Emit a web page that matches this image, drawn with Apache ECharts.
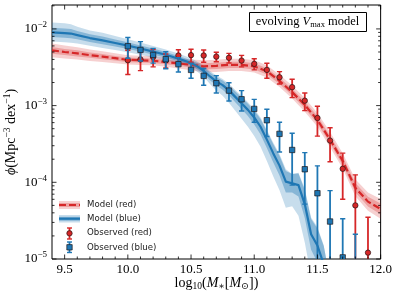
<!DOCTYPE html>
<html><head><meta charset="utf-8">
<script src="https://cdn.jsdelivr.net/npm/echarts@6/dist/echarts.min.js"></script>
<style>html,body{margin:0;padding:0;background:#fff}#c{width:395px;height:294px}</style>
</head><body><div id="c"></div>
<script>
// ---------------- data ----------------
const obsX = [10.0,10.1,10.2,10.3,10.4,10.5,10.6,10.7,10.8,10.9,11.0,11.1,11.2,11.3,11.4,11.5,11.6,11.7,11.8,11.9];
const redObs = [3.9e-3,4.0e-3,4.3e-3,3.9e-3,4.5e-3,4.55e-3,4.5e-3,4.35e-3,4.2e-3,3.86e-3,3.5e-3,2.92e-3,2.34e-3,1.74e-3,1.16e-3,6.9e-4,3.5e-4,1.5e-4,5.0e-5,1.21e-5];
const redErr = [1.36e-3,1.14e-3,1.1e-3,0.8e-3,0.84e-3,0.88e-3,0.82e-3,0.62e-3,0.6e-3,0.66e-3,0.58e-3,0.65e-3,0.43e-3,0.47e-3,0.3e-3,0.29e-3,1.65e-4,0.9e-4,7.5e-5,2.3e-5];
const blueObs = [5.94e-3,5.32e-3,4.58e-3,4.03e-3,3.47e-3,2.92e-3,2.44e-3,1.96e-3,1.57e-3,1.21e-3,9.06e-4,6.45e-4,4.28e-4,2.64e-4,1.48e-4,7.2e-5,3.08e-5,1.05e-5,4e-6,null];
const blueErr = [1.8e-3,1.5e-3,1.0e-3,1.0e-3,0.73e-3,0.65e-3,0.6e-3,0.5e-3,0.42e-3,0.36e-3,0.3e-3,0.25e-3,0.18e-3,1.72e-4,0.96e-4,0.92e-4,4.7e-5,2.3e-5,1.7e-5,null];

const redModelX = [9.4,9.5,9.6,9.7,9.8,9.9,10.0,10.1,10.2,10.3,10.4,10.5,10.6,10.7,10.8,10.9,11.0,11.1,11.2,11.3,11.4,11.5,11.6,11.7,11.8,11.9,12.0];
const redModel = [5.25e-3,5.0e-3,4.8e-3,4.55e-3,4.35e-3,4.15e-3,3.95e-3,3.9e-3,3.85e-3,3.7e-3,3.55e-3,3.4e-3,3.25e-3,3.3e-3,3.4e-3,3.4e-3,3.25e-3,2.8e-3,2.1e-3,1.5e-3,1.02e-3,6.5e-4,3.6e-4,1.9e-4,8.5e-5,5.6e-5,4.5e-5];
const redInner = [0.045,0.04,0.04,0.035,0.035,0.03,0.03,0.03,0.03,0.03,0.03,0.035,0.04,0.04,0.04,0.04,0.04,0.04,0.04,0.045,0.045,0.05,0.05,0.055,0.06,0.065,0.07];
const redOuter = [0.09,0.085,0.08,0.075,0.07,0.065,0.06,0.06,0.06,0.06,0.065,0.07,0.08,0.08,0.08,0.08,0.08,0.08,0.08,0.085,0.09,0.09,0.1,0.1,0.11,0.12,0.13];

const blueModelX = [9.4,9.5,9.55,9.6,9.7,9.8,9.9,10.0,10.1,10.2,10.3,10.4,10.5,10.55,10.6,10.65,10.7,10.75,10.8,10.85,10.9,10.95,11.0,11.05,11.1,11.15,11.2,11.25,11.3,11.35,11.4,11.45,11.5,11.55,11.6];
const blueModel = [9.0e-3,8.8e-3,8.7e-3,8.3e-3,7.6e-3,7.1e-3,6.55e-3,6.05e-3,5.55e-3,5.05e-3,4.6e-3,4.1e-3,3.6e-3,3.25e-3,2.85e-3,2.4e-3,2.07e-3,1.85e-3,1.58e-3,1.3e-3,1.07e-3,8.8e-4,7.0e-4,5.3e-4,3.6e-4,2.4e-4,1.65e-4,1.02e-4,9.7e-5,9.2e-5,5.2e-5,2.1e-5,1.5e-5,8.5e-6,3e-6];
const blueInner = [0.06,0.06,0.06,0.055,0.05,0.05,0.045,0.045,0.04,0.04,0.035,0.035,0.035,0.04,0.045,0.05,0.055,0.06,0.065,0.07,0.075,0.08,0.09,0.1,0.11,0.12,0.13,0.14,0.12,0.15,0.18,0.2,0.22,0.24,0.25];
const blueOuterLo = [0.12,0.12,0.12,0.11,0.1,0.1,0.09,0.085,0.08,0.075,0.07,0.065,0.06,0.07,0.08,0.1,0.12,0.14,0.16,0.18,0.2,0.22,0.24,0.26,0.28,0.3,0.32,0.34,0.3,0.4,0.5,0.55,0.6,0.6,0.6];
const blueOuterHi = [0.13,0.13,0.12,0.11,0.1,0.1,0.09,0.085,0.08,0.075,0.07,0.065,0.06,0.06,0.065,0.07,0.075,0.08,0.085,0.09,0.1,0.1,0.11,0.12,0.13,0.14,0.15,0.16,0.12,0.16,0.2,0.22,0.24,0.25,0.25];

const xTickLabels = [9.5,10.0,10.5,11.0,11.5,12.0];
const yTickLabels = [1e-5,1e-4,1e-3,1e-2];
const legendLabels = ['Model (red)','Model (blue)','Observed (red)','Observed (blue)'];

// ---------------- setup ----------------
const X_MIN = 9.4, X_MAX = 12.0, Y_MIN = 1e-5, Y_MAX = 0.0205;
const RED = '#d62728', BLUE = '#1f77b4';
const SERIF = '"Liberation Serif", "DejaVu Serif", serif';
const SANS = '"DejaVu Sans", sans-serif';

const chart = echarts.init(document.getElementById('c'), null, {renderer: 'canvas'});

function clipRect(cs) { return {type: 'rect', shape: {x: cs.x, y: cs.y, width: cs.width, height: cs.height}}; }

function bandSeries(xs, vals, lo, hi, color, z) {
  return {
    type: 'custom', coordinateSystem: 'cartesian2d', silent: true, z: z,
    data: [[10.5, 1e-3]],
    renderItem: function (params, api) {
      const pts = [];
      for (let i = 0; i < xs.length; i++) pts.push(api.coord([xs[i], vals[i] * Math.pow(10, hi[i])]));
      for (let i = xs.length - 1; i >= 0; i--) pts.push(api.coord([xs[i], vals[i] * Math.pow(10, -lo[i])]));
      return {type: 'polygon', shape: {points: pts}, style: {fill: color}, clipPath: clipRect(params.coordSys)};
    }
  };
}

function errSeries(xs, vals, errs, color, shape, z) {
  const data = [];
  xs.forEach((x, i) => { if (vals[i] != null) data.push([x, vals[i], errs[i]]); });
  return {
    type: 'custom', coordinateSystem: 'cartesian2d', silent: true, z: z,
    data: data,
    renderItem: function (params, api) {
      const x = api.value(0), v = api.value(1), e = api.value(2);
      const cs = params.coordSys;
      const top = cs.y, bottom = cs.y + cs.height;
      const pHi = api.coord([x, v + e]);
      const cx = pHi[0];
      let yHi = pHi[1];
      const capHi = yHi >= top;
      yHi = Math.max(yHi, top);
      let yLo, capLo;
      if (v - e > 0) {
        yLo = api.coord([x, v - e])[1];
        capLo = yLo <= bottom;
        yLo = Math.min(yLo, bottom);
      } else { yLo = bottom; capLo = false; }
      const children = [];
      children.push({type: 'line', shape: {x1: cx, y1: yHi, x2: cx, y2: yLo}, style: {stroke: color, lineWidth: 1.8}});
      if (capHi) children.push({type: 'line', shape: {x1: cx - 2.6, y1: yHi, x2: cx + 2.6, y2: yHi}, style: {stroke: color, lineWidth: 1.4}});
      if (capLo) children.push({type: 'line', shape: {x1: cx - 2.6, y1: yLo, x2: cx + 2.6, y2: yLo}, style: {stroke: color, lineWidth: 1.4}});
      if (v >= Y_MIN) {
        const p = api.coord([x, v]);
        const ms = {fill: color, stroke: 'rgba(30,20,20,0.85)', lineWidth: 0.8};
        if (shape === 'circle') children.push({type: 'circle', shape: {cx: p[0], cy: p[1], r: 2.7}, style: ms});
        else children.push({type: 'rect', shape: {x: p[0] - 2.7, y: p[1] - 2.7, width: 5.4, height: 5.4}, style: ms});
      }
      return {type: 'group', children: children, clipPath: clipRect(cs)};
    }
  };
}

function tickSeries() {
  return {
    type: 'custom', coordinateSystem: 'cartesian2d', silent: true, z: 20,
    data: [[10.5, 1e-3]],
    renderItem: function (params, api) {
      const cs = params.coordSys;
      const L = cs.x, R = cs.x + cs.width, T = cs.y, B = cs.y + cs.height;
      const ch = [];
      const st = {stroke: '#000', lineWidth: 0.8};
      function xt(v, len) {
        const px = api.coord([v, Y_MIN])[0];
        ch.push({type: 'line', shape: {x1: px, y1: B, x2: px, y2: B - len}, style: st});
        ch.push({type: 'line', shape: {x1: px, y1: T, x2: px, y2: T + len}, style: st});
      }
      function yt(v, len) {
        const py = api.coord([X_MIN, v])[1];
        ch.push({type: 'line', shape: {x1: L, y1: py, x2: L + len, y2: py}, style: st});
        ch.push({type: 'line', shape: {x1: R, y1: py, x2: R - len, y2: py}, style: st});
      }
      xTickLabels.forEach(v => xt(v, 4.5));
      for (let k = 95; k <= 119; k++) { const v = k / 10; if (k % 5 !== 0) xt(v, 2.5); }
      yTickLabels.forEach(v => yt(v, 4.5));
      yTickLabels.forEach(d => { for (let m = 2; m <= 9; m++) { const v = d * m; if (v < Y_MAX) yt(v, 2.5); } });
      return {type: 'group', children: ch};
    }
  };
}

function lineData(xs, vs) { return xs.map((x, i) => [x, vs[i]]); }

const option = {
  animation: false,
  backgroundColor: '#fff',
  grid: {left: 52, right: 14, top: 5, bottom: 35, show: true, borderColor: '#000', borderWidth: 1, backgroundColor: 'transparent'},
  xAxis: {
    type: 'value', min: X_MIN, max: X_MAX, splitNumber: 5, minInterval: 0.5, maxInterval: 0.5,
    axisLine: {show: false}, axisTick: {show: false}, splitLine: {show: false},
    axisLabel: {
      margin: 4, color: '#000', fontFamily: SERIF, fontSize: 13,
      showMinLabel: true, showMaxLabel: true,
      formatter: function (v) {
        for (const t of xTickLabels) if (Math.abs(v - t) < 1e-6) return t.toFixed(1);
        return '';
      }
    }
  },
  yAxis: {
    type: 'log', logBase: 10, min: Y_MIN, max: Y_MAX,
    axisLine: {show: false}, axisTick: {show: false}, splitLine: {show: false}, minorTick: {show: false},
    axisLabel: {
      margin: 5, color: '#000',
      formatter: function (v) {
        for (const t of yTickLabels) if (Math.abs(Math.log10(v) - Math.log10(t)) < 1e-6) return '{b|10}{s|\u2212' + Math.round(-Math.log10(t)) + '}';
        return '';
      },
      rich: {
        b: {fontFamily: SERIF, fontSize: 13, color: '#000'},
        s: {fontFamily: SERIF, fontSize: 9, color: '#000', padding: [0, 0, 8, 0]}
      }
    }
  },
  series: [
    bandSeries(redModelX, redModel, redOuter, redOuter, 'rgba(214,39,40,0.22)', 1),
    bandSeries(redModelX, redModel, redInner, redInner, 'rgba(214,39,40,0.28)', 2),
    bandSeries(blueModelX, blueModel, blueOuterLo, blueOuterHi, 'rgba(31,119,180,0.25)', 1),
    bandSeries(blueModelX, blueModel, blueInner, blueInner, 'rgba(31,119,180,0.38)', 2),
    {type: 'line', data: lineData(redModelX, redModel), symbol: 'none', clip: true, z: 3, silent: true,
     lineStyle: {color: RED, width: 2.2, type: [7, 3]}},
    {type: 'line', data: lineData(blueModelX, blueModel), symbol: 'none', clip: true, z: 3, silent: true,
     lineStyle: {color: BLUE, width: 2.2, join: 'round'}},
    errSeries(obsX, redObs, redErr, RED, 'circle', 4),
    errSeries(obsX, blueObs, blueErr, BLUE, 'square', 5),
    tickSeries()
  ],
  graphic: [
    // title box
    {type: 'rect', left: 249, top: 12, shape: {width: 117, height: 19}, style: {fill: '#fff', stroke: '#000', lineWidth: 1}, z: 50},
    {type: 'text', x: 307.5, y: 21.5, z: 51, style: {
      text: '{n|evolving }{i|V}{sub|max}{n| model}', align: 'center', verticalAlign: 'middle',
      rich: {
        n: {fontFamily: SERIF, fontSize: 12.5, fill: '#000'},
        i: {fontFamily: SERIF, fontSize: 12.5, fontStyle: 'italic', fill: '#000'},
        sub: {fontFamily: SERIF, fontSize: 8.5, fill: '#000', padding: [6, 0, 0, 0]}
      }}},
    // x-axis name
    {type: 'text', x: 216.5, y: 283, z: 50, style: {
      text: '{n|log}{sub|10}{n|(}{i|M}{sub|\u2217}{n|[}{i|M}{sub|\u2299}{n|])}', align: 'center', verticalAlign: 'middle',
      rich: {
        n: {fontFamily: SERIF, fontSize: 14, fill: '#000'},
        i: {fontFamily: SERIF, fontSize: 14, fontStyle: 'italic', fill: '#000'},
        sub: {fontFamily: SERIF, fontSize: 9.5, fill: '#000', padding: [6, 0, 0, 0]}
      }}},
    // y-axis name
    {type: 'text', x: 11, y: 132, rotation: Math.PI / 2, z: 50, style: {
      text: '{i|\u03d5}{n|(Mpc}{s|\u22123}{n| dex}{s|\u22121}{n|)}', align: 'center', verticalAlign: 'middle',
      rich: {
        n: {fontFamily: SERIF, fontSize: 14, fill: '#000'},
        i: {fontFamily: SERIF, fontSize: 14, fontStyle: 'italic', fill: '#000'},
        s: {fontFamily: SERIF, fontSize: 9.5, fill: '#000', padding: [0, 0, 7, 0]}
      }}},
    // legend: model red
    {type: 'rect', shape: {x: 59, y: 201, width: 21, height: 8}, style: {fill: 'rgba(214,39,40,0.22)'}, z: 50},
    {type: 'rect', shape: {x: 59, y: 203, width: 21, height: 4}, style: {fill: 'rgba(214,39,40,0.28)'}, z: 50},
    {type: 'line', shape: {x1: 59, y1: 205, x2: 80, y2: 205}, style: {stroke: RED, lineWidth: 2.2, lineDash: [7, 3]}, z: 51},
    // legend: model blue
    {type: 'rect', shape: {x: 59, y: 215, width: 21, height: 7.5}, style: {fill: 'rgba(31,119,180,0.25)'}, z: 50},
    {type: 'rect', shape: {x: 59, y: 216.8, width: 21, height: 4}, style: {fill: 'rgba(31,119,180,0.38)'}, z: 50},
    {type: 'line', shape: {x1: 59, y1: 218.7, x2: 80, y2: 218.7}, style: {stroke: BLUE, lineWidth: 2.2}, z: 51},
    // legend: observed red
    {type: 'line', shape: {x1: 69.5, y1: 228, x2: 69.5, y2: 239}, style: {stroke: RED, lineWidth: 1.8}, z: 50},
    {type: 'line', shape: {x1: 67, y1: 228, x2: 72, y2: 228}, style: {stroke: RED, lineWidth: 1.4}, z: 50},
    {type: 'line', shape: {x1: 67, y1: 239, x2: 72, y2: 239}, style: {stroke: RED, lineWidth: 1.4}, z: 50},
    {type: 'circle', shape: {cx: 69.5, cy: 233.3, r: 2.7}, style: {fill: RED, stroke: 'rgba(30,20,20,0.85)', lineWidth: 0.8}, z: 51},
    // legend: observed blue
    {type: 'line', shape: {x1: 69.5, y1: 242, x2: 69.5, y2: 252.5}, style: {stroke: BLUE, lineWidth: 1.8}, z: 50},
    {type: 'line', shape: {x1: 67, y1: 242, x2: 72, y2: 242}, style: {stroke: BLUE, lineWidth: 1.4}, z: 50},
    {type: 'line', shape: {x1: 67, y1: 252.5, x2: 72, y2: 252.5}, style: {stroke: BLUE, lineWidth: 1.4}, z: 50},
    {type: 'rect', shape: {x: 66.8, y: 244.6, width: 5.4, height: 5.4}, style: {fill: BLUE, stroke: 'rgba(30,20,20,0.85)', lineWidth: 0.8}, z: 51}
  ].concat(legendLabels.map((t, i) => ({
    type: 'text', x: 87, y: 205 + i * 14.1, z: 51,
    style: {text: t, fontFamily: SANS, fontSize: 8.6, fill: '#222', align: 'left', verticalAlign: 'middle'}
  })))
};
chart.setOption(option);
</script>
</body></html>
